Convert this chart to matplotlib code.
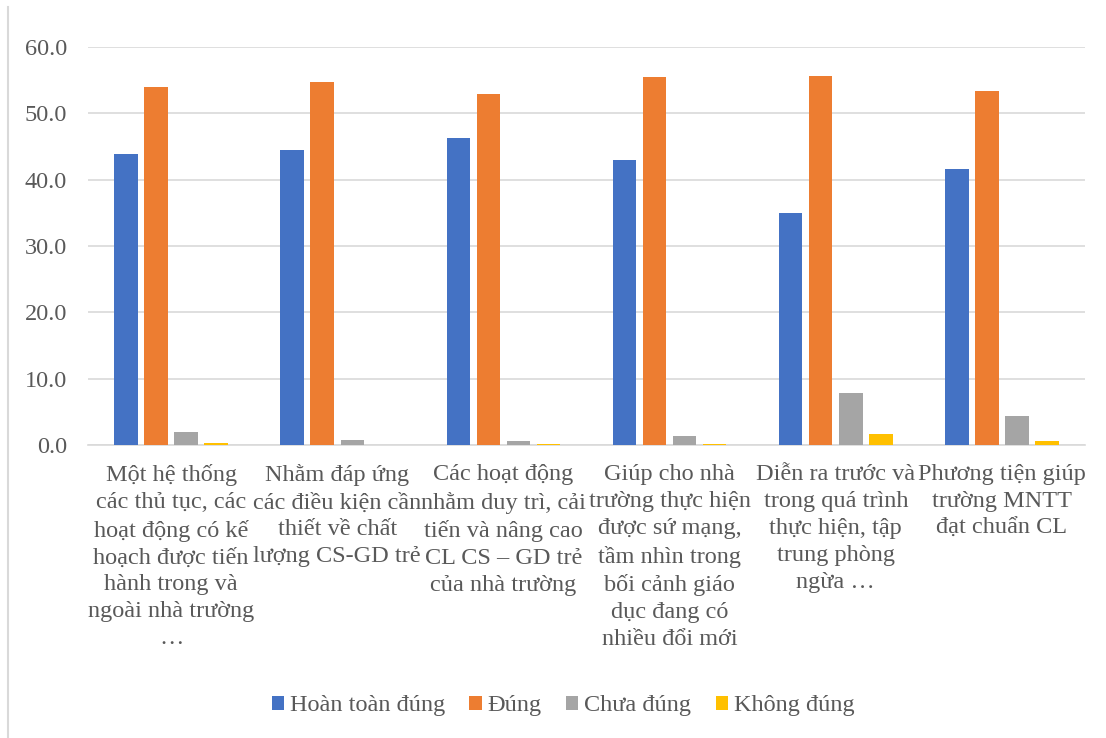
import matplotlib
matplotlib.use("Agg")
import matplotlib.pyplot as plt
import numpy as np
from matplotlib.lines import Line2D
from matplotlib.patches import Patch

plt.rcParams['font.family'] = ['Liberation Serif', 'DejaVu Serif']

categories = [
    "Một hệ thống\ncác thủ tục, các\nhoạt động có kế\nhoạch được tiến\nhành trong và\nngoài nhà trường\n…",
    "Nhằm đáp ứng\ncác điều kiện cần\nthiết về chất\nlượng CS-GD trẻ",
    "Các hoạt động\nnhằm duy trì, cải\ntiến và nâng cao\nCL CS – GD trẻ\ncủa nhà trường",
    "Giúp cho nhà\ntrường thực hiện\nđược sứ mạng,\ntầm nhìn trong\nbối cảnh giáo\ndục đang có\nnhiều đổi mới",
    "Diễn ra trước và\ntrong quá trình\nthực hiện, tập\ntrung phòng\nngừa …",
    "Phương tiện giúp\ntrường MNTT\nđạt chuẩn CL",
]
series_names = ["Hoàn toàn đúng", "Đúng", "Chưa đúng", "Không đúng"]
hoan_toan_dung = [43.8, 44.5, 46.3, 43.0, 35.0, 41.6]
dung = [53.9, 54.7, 52.9, 55.5, 55.7, 53.3]
chua_dung = [2.0, 0.8, 0.6, 1.3, 7.8, 4.4]
khong_dung = [0.3, 0.0, 0.1, 0.1, 1.6, 0.6]
yticks = [0, 10, 20, 30, 40, 50, 60]

colors = ["#4472C4", "#ED7D31", "#A5A5A5", "#FFC000"]
txt = "#595959"
fs = 17.5

fig = plt.figure(figsize=(11.06, 7.38), dpi=100)
ax = fig.add_axes([88/1106, 1 - 445/738, (1085-88)/1106, (445-47)/738])

x = np.arange(len(categories))
data = [hoan_toan_dung, dung, chua_dung, khong_dung]
step = 30/166
width = 23.5/166
for i, (vals, c, name) in enumerate(zip(data, colors, series_names)):
    ax.bar(x + (i - 1.5)*step, vals, width, color=c, label=name, zorder=3)

ax.set_xlim(-0.5, len(categories) - 0.5)
ax.set_ylim(0, 60)
ax.set_yticks(yticks)
ax.set_yticklabels([f"{v:.1f}" for v in yticks], fontsize=fs, color=txt)
ax.yaxis.grid(True, color="#d9d9d9", linewidth=1.2, zorder=0)
ax.tick_params(axis='both', length=0)
ax.tick_params(axis='y', pad=15)
for s in ["top", "right", "left"]:
    ax.spines[s].set_visible(False)
ax.spines["bottom"].set_color("#d9d9d9")
ax.spines["bottom"].set_linewidth(1.2)
ax.set_xticks(x)
ax.set_xticklabels(categories, fontsize=fs, color=txt, linespacing=1.37, va='top')
ax.tick_params(axis='x', pad=14)

handles = [Patch(facecolor=c, edgecolor='none') for c in colors]
leg = fig.legend(handles, series_names, loc='center', bbox_to_anchor=(563/1106, 1 - 706/738),
                 ncol=4, frameon=False, fontsize=fs, handlelength=0.5, handleheight=0.5,
                 handletextpad=0.25, columnspacing=1.0, labelcolor=txt)

fig.add_artist(Line2D([8/1106, 8/1106], [0, 1 - 7/738], color="#d9d9d9", linewidth=1.5))

fig.savefig("out.png", dpi=100, facecolor="white")
